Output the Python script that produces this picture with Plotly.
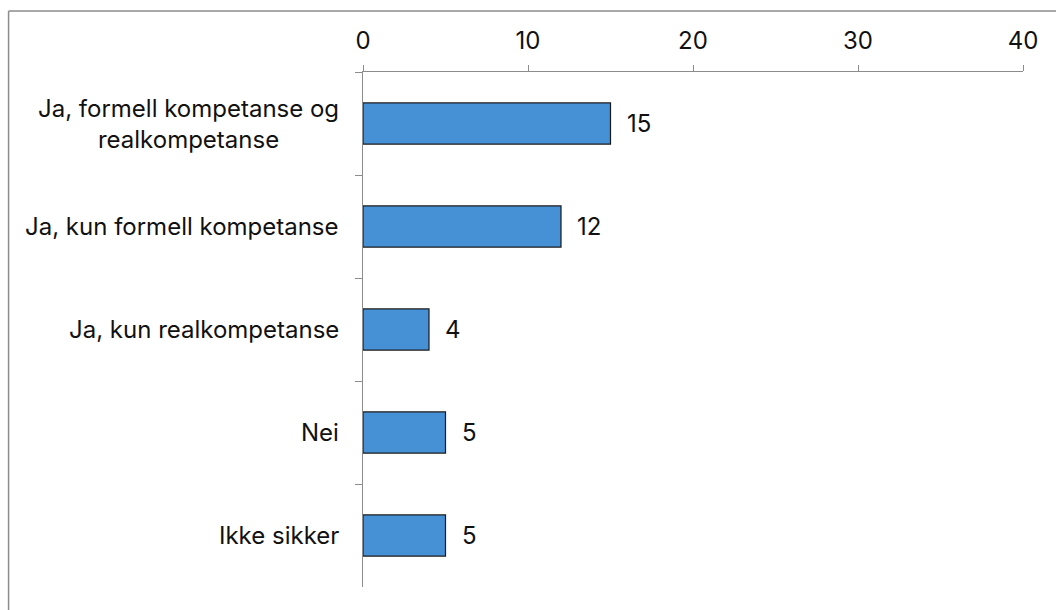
import plotly.graph_objects as go

categories = [
    "Ja, formell kompetanse og<br>realkompetanse",
    "Ja, kun formell kompetanse",
    "Ja, kun realkompetanse",
    "Nei",
    "Ikke sikker",
]
values = [15, 12, 4, 5, 5]
x_ticks = [0, 10, 20, 30, 40]

FONT = "Inter, Roboto, sans-serif"
FSIZE = 24
AXIS_GREY = "#8c8c8c"

fig = go.Figure()
fig.add_trace(go.Bar(
    x=values,
    y=categories,
    orientation="h",
    width=0.4,
    marker=dict(color="#4690d6", line=dict(color="#1a1a1a", width=1.2)),
    hoverinfo="skip",
))

# value labels to the right of each bar
for cat, v in zip(categories, values):
    fig.add_annotation(
        x=v, y=cat, xref="x", yref="y",
        text=str(v), showarrow=False,
        xanchor="left", xshift=14,
        font=dict(family=FONT, size=FSIZE, color="#111111"),
    )

# category labels, centred multi-line text, right edge left of axis
for cat in categories:
    fig.add_annotation(
        x=0, y=cat, xref="paper", yref="y",
        text=cat, showarrow=False,
        xanchor="right", xshift=-22, align="center",
        font=dict(family=FONT, size=FSIZE, color="#111111"),
    )

# outer frame of the chart area
fig.add_shape(type="line", xref="paper", yref="paper",
              x0=-0.537, x1=1.2, y0=1.1185, y1=1.1185,
              line=dict(color=AXIS_GREY, width=1.5))
fig.add_shape(type="line", xref="paper", yref="paper",
              x0=-0.537, x1=-0.537, y0=1.1185, y1=-0.2,
              line=dict(color=AXIS_GREY, width=1.5))

fig.update_layout(
    width=1056, height=610,
    margin=dict(l=363, r=33, t=72, b=23),
    paper_bgcolor="white", plot_bgcolor="white",
    showlegend=False,
    bargap=0.6,
    font=dict(family=FONT, size=FSIZE, color="#111111"),
    xaxis=dict(
        side="top", range=[0, 40], tickvals=x_ticks,
        showgrid=False, zeroline=False,
        showline=True, linecolor=AXIS_GREY, linewidth=1.2,
        ticks="outside", ticklen=6, tickcolor=AXIS_GREY, tickwidth=1.2,
        ticklabelstandoff=6,
        tickfont=dict(family=FONT, size=FSIZE, color="#111111"),
    ),
    yaxis=dict(
        categoryorder="array", categoryarray=categories,
        autorange="reversed",
        showgrid=False, zeroline=False,
        showline=True, linecolor=AXIS_GREY, linewidth=1.2,
        ticks="outside", ticklen=7, tickcolor=AXIS_GREY, tickwidth=1.2,
        tickson="boundaries",
        showticklabels=False,
    ),
)

fig.write_html("out.html")
